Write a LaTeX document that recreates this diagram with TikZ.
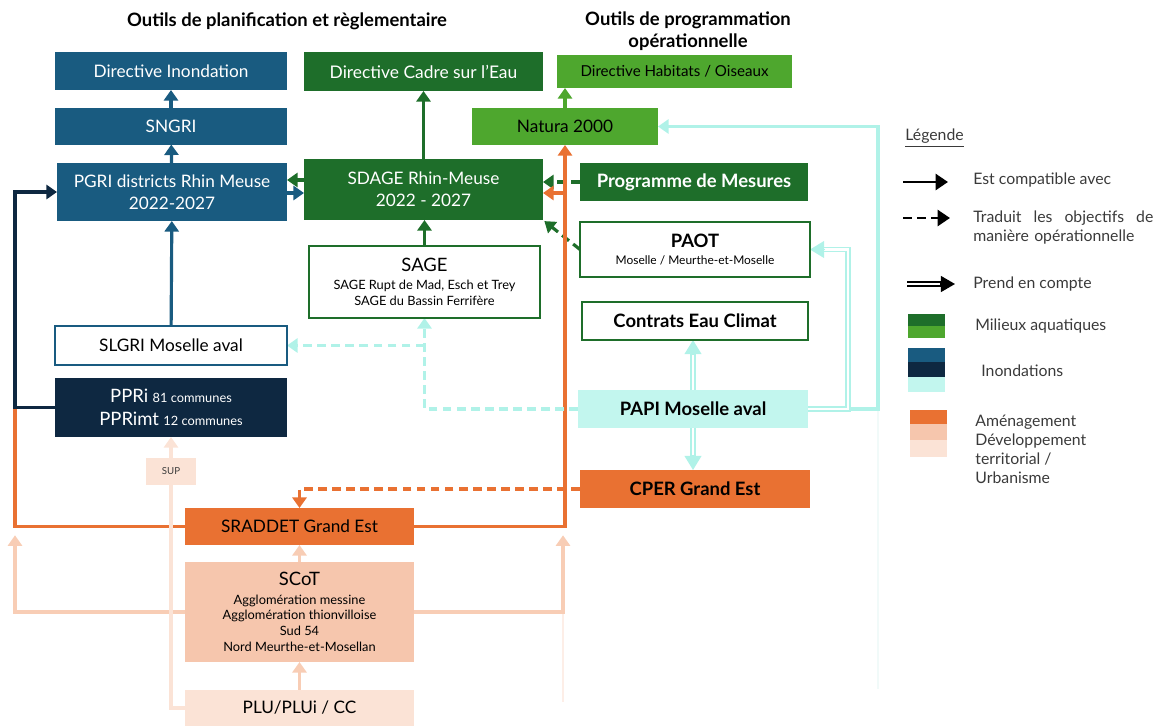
\documentclass[tikz,border=0pt]{standalone}
\usepackage{fontspec}
\setmainfont{Lato}
\usepackage{tikz}
\usetikzlibrary{arrows.meta,positioning}
\definecolor{inondblue}{HTML}{195B80}
\definecolor{navy}{HTML}{0E2841}
\definecolor{darkgreen}{HTML}{1E6E2A}
\definecolor{lightgreen}{HTML}{4EA72E}
\definecolor{amenorange}{HTML}{E97132}
\definecolor{peach}{HTML}{F6C6AD}
\definecolor{lightpeach}{HTML}{FBE3D6}
\definecolor{peachline}{HTML}{F8CDB5}
\definecolor{cyanfill}{HTML}{C2F6EE}
\definecolor{cyanline}{HTML}{B0F2E8}
\definecolor{faintline}{HTML}{F1FAF9}
\definecolor{legtext}{HTML}{3A3A3A}
\pgfdeclarelayer{edgelayer}
\pgfdeclarelayer{nodelayer}
\pgfsetlayers{edgelayer,nodelayer,main}
\tikzstyle{none}=[inner sep=0pt]
\tikzstyle{box}=[rectangle,inner sep=0pt,outer sep=0pt,align=center,font=\fontsize{9.8}{12.5}\selectfont]
\tikzstyle{bluebox}=[box,fill=inondblue,text=white]
\tikzstyle{navybox}=[box,fill=navy,text=white]
\tikzstyle{greenbox}=[box,fill=darkgreen,text=white]
\tikzstyle{lgreenbox}=[box,fill=lightgreen,text=black]
\tikzstyle{whitegreen}=[box,fill=white,draw=darkgreen,line width=1.1pt]
\tikzstyle{whiteblue}=[box,fill=white,draw=inondblue,line width=1.1pt]
\tikzstyle{cyanbox}=[box,fill=cyanfill,text=black]
\tikzstyle{orangebox}=[box,fill=amenorange,text=black]
\tikzstyle{peachbox}=[box,fill=peach,text=black]
\tikzstyle{lpeachbox}=[box,fill=lightpeach,text=black]
\tikzstyle{boldlabel}=[font=\bfseries\fontsize{10.5}{12.5}\selectfont]
\tikzstyle{smalllines}=[font=\fontsize{7.3}{9}\selectfont]
\tikzstyle{title}=[inner sep=0pt,align=center,font=\bfseries\fontsize{10.5}{12.5}\selectfont]
\tikzstyle{legend}=[inner sep=0pt,anchor=west,align=left,text=legtext,font=\fontsize{9}{10.8}\selectfont]
\tikzstyle{inarrow}=[-{Triangle[length=6pt,width=8pt]},line width=1.8pt]
\tikzstyle{bluearrow}=[inarrow,draw=inondblue]
\tikzstyle{navyarrow}=[inarrow,draw=navy]
\tikzstyle{greenarrow}=[inarrow,draw=darkgreen]
\tikzstyle{lgreenarrow}=[inarrow,draw=lightgreen]
\tikzstyle{orangearrow}=[inarrow,draw=amenorange]
\tikzstyle{peacharrow}=[inarrow,draw=peachline]
\tikzstyle{suparrow}=[inarrow,draw=lightpeach]
\tikzstyle{cyanarrow}=[inarrow,draw=cyanline]
\tikzstyle{dashed arrow}=[dash pattern=on 5pt off 3pt]
\tikzstyle{takes}=[double=white,double distance=1.3pt,line width=1pt,shorten >=6pt]
\tikzstyle{cyanhead}=[-{Triangle[length=8pt,width=9.5pt]},draw=cyanline,line width=1pt]
\tikzstyle{blackhead}=[-{Triangle[length=8pt,width=9pt]},draw=black,line width=1pt]
\tikzstyle{legarrow}=[-{Triangle[length=7pt,width=9pt]},line width=1.6pt,draw=black]

\begin{document}
\begin{tikzpicture}
	\useasboundingbox (0,0) rectangle (23.1,-14.52);
	\begin{pgfonlayer}{nodelayer}
		\node [style=title] (plantitle) at (5.74, -0.42) {Outils de planification et règlementaire};
		\node [style=title] (progtitle) at (13.76, -0.62) {Outils de programmation\\opérationnelle};
		% inondations
		\node [style=bluebox, minimum width=4.64cm, minimum height=0.76cm] (dirinond) at (3.42, -1.42) {Directive Inondation};
		\node [style=bluebox, minimum width=4.64cm, minimum height=0.74cm] (sngri) at (3.42, -2.52) {SNGRI};
		\node [style=bluebox, minimum width=4.6cm, minimum height=1.16cm] (pgri) at (3.44, -3.84) {PGRI districts Rhin Meuse\\2022-2027};
		\node [style=whiteblue, minimum width=4.64cm, minimum height=0.78cm] (slgri) at (3.42, -6.91) {SLGRI Moselle aval};
		\node [style=navybox, minimum width=4.64cm, minimum height=1.18cm] (ppri) at (3.42, -8.15) {{\fontsize{10.5}{13}\selectfont PPRi} {\fontsize{7.3}{9}\selectfont 81 communes}\\[0.5pt]{\fontsize{10.5}{13}\selectfont PPRimt} {\fontsize{7.3}{9}\selectfont 12 communes}};
		% milieux aquatiques
		\node [style=greenbox, minimum width=4.78cm, minimum height=0.78cm, font=\fontsize{9.9}{12}\selectfont] (dce) at (8.47, -1.43) {Directive Cadre sur l’Eau};
		\node [style=greenbox, minimum width=4.78cm, minimum height=1.22cm] (sdage) at (8.47, -3.79) {SDAGE Rhin-Meuse\\2022 - 2027};
		\node [style=whitegreen, smalllines, minimum width=4.62cm, minimum height=1.44cm] (sage) at (8.49, -5.64) {{\fontsize{10.5}{12}\selectfont SAGE}\\[1.5pt]SAGE Rupt de Mad, Esch et Trey\\SAGE du Bassin Ferrifère};
		\node [style=lgreenbox, minimum width=4.7cm, minimum height=0.66cm, font=\fontsize{8.6}{10}\selectfont] (dho) at (13.49, -1.43) {Directive Habitats / Oiseaux};
		\node [style=lgreenbox, minimum width=3.72cm, minimum height=0.74cm] (natura) at (11.30, -2.53) {Natura 2000};
		\node [style=greenbox, boldlabel, minimum width=4.56cm, minimum height=0.76cm] (pdm) at (13.88, -3.64) {Programme de Mesures};
		\node [style=whitegreen, font=\fontsize{6.8}{8}\selectfont, minimum width=4.6cm, minimum height=1.1cm] (paot) at (13.90, -4.99) {{\bfseries\fontsize{10.5}{12}\selectfont PAOT}\\[2pt]Moselle / Meurthe-et-Moselle};
		\node [style=whitegreen, boldlabel, minimum width=4.52cm, minimum height=0.76cm] (cec) at (13.90, -6.42) {Contrats Eau Climat};
		\node [style=cyanbox, boldlabel, minimum width=4.6cm, minimum height=0.76cm] (papi) at (13.86, -8.18) {PAPI Moselle aval};
		% amenagement
		\node [style=orangebox, boldlabel, minimum width=4.6cm, minimum height=0.76cm] (cper) at (13.90, -9.78) {CPER Grand Est};
		\node [style=lpeachbox, minimum width=1.0cm, minimum height=0.54cm, text=legtext, font=\fontsize{5.5}{7}\selectfont] (sup) at (3.42, -9.43) {SUP};
		\node [style=orangebox, minimum width=4.58cm, minimum height=0.74cm] (sraddet) at (5.99, -10.53) {SRADDET Grand Est};
		\node [style=peachbox, smalllines, minimum width=4.58cm, minimum height=2.0cm] (scot) at (5.99, -12.24) {{\fontsize{10.5}{12}\selectfont SCoT}\\[1.5pt]Agglomération messine\\Agglomération thionvilloise\\Sud 54\\Nord Meurthe-et-Mosellan};
		\node [style=lpeachbox, minimum width=4.58cm, minimum height=0.72cm, font=\fontsize{9.8}{12}\selectfont] (plu) at (5.99, -14.16) {PLU/PLUi / CC};
		% legende
		\node [style=legend] (legtitle) at (18.1, -2.76) {\underline{Légende}};
		\node [style=legend] (legcompat) at (19.46, -3.6) {Est compatible avec};
		\node [style=legend, text width=3.6cm] (legtrad) at (19.46, -4.56) {Traduit\hfill les\hfill objectifs\hfill de\\manière opérationnelle};
		\node [style=legend] (legprend) at (19.46, -5.68) {Prend en compte};
		\node [style=legend] (legmilieux) at (19.5, -6.52) {Milieux aquatiques};
		\node [style=legend] (leginond) at (19.62, -7.42) {Inondations};
		\node [style=legend] (legamen) at (19.5, -8.98) {Aménagement\\Développement\\territorial /\\Urbanisme};
		\fill [darkgreen] (18.16, -6.28) rectangle (18.9, -6.52);
		\fill [lightgreen] (18.16, -6.52) rectangle (18.9, -6.76);
		\fill [inondblue] (18.16, -6.96) rectangle (18.9, -7.24);
		\fill [navy] (18.16, -7.24) rectangle (18.9, -7.54);
		\fill [cyanfill] (18.16, -7.54) rectangle (18.9, -7.84);
		\fill [amenorange] (18.2, -8.2) rectangle (18.94, -8.48);
		\fill [peach] (18.2, -8.48) rectangle (18.94, -8.8);
		\fill [lightpeach] (18.2, -8.8) rectangle (18.94, -9.14);
	\end{pgfonlayer}
	\coordinate (gy) at (0, -3.60);
	\coordinate (by) at (0, -3.86);
	\coordinate (solida) at (18.06, -3.64);
	\coordinate (solidb) at (18.96, -3.64);
	\coordinate (dasha) at (18.06, -4.36);
	\coordinate (dashb) at (19.0, -4.36);
	\coordinate (dbla) at (18.14, -5.68);
	\coordinate (dblb) at (19.1, -5.68);
	\begin{pgfonlayer}{edgelayer}
		% faint leftovers
		\draw [faintline, line width=1pt] (papi.east) ++(1.4, 0) -- ++(0, -5.6);
		\draw [lightpeach!60, line width=1pt] (scot.east) ++(2.98, 0) -- ++(0, -1.8);
		% inondations
		\draw [style=bluearrow] (sngri) to (dirinond);
		\draw [style=bluearrow] (pgri) to (sngri);
		\draw [style=bluearrow] (slgri) to (pgri);
		\draw [style=bluearrow] (pgri.east |- by) to (sdage.west |- by);
		\draw [style=orangearrow, -] (sraddet.west) -- ++(-3.4, 0) -- ++(0, 2.38);
		\draw [style=navyarrow] (ppri.west) -- ++(-0.8, 0) |- (pgri.west);
		% milieux aquatiques
		\draw [style=greenarrow] (sdage) to (dce);
		\draw [style=greenarrow] (sage.north) to (sage.north |- sdage.south);
		\draw [style=greenarrow] (sdage.west |- gy) to (pgri.east |- gy);
		\draw [style=lgreenarrow] (natura.north) to (natura.north |- dho.south);
		\draw [style=greenarrow, style=dashed arrow] (pdm.west) to (pdm.west -| sdage.east);
		\draw [style=greenarrow, style=dashed arrow, shorten >=1pt] (paot.west) to (sdage.south east);
		% amenagement
		\draw [style=orangearrow] (sraddet.east) -| (natura.south);
		\draw [style=orangearrow] (natura.south |- by) to (sdage.east |- by);
		\draw [style=orangearrow, style=dashed arrow] (cper.west) -| (sraddet.north);
		\draw [style=peacharrow] (scot) to (sraddet);
		\draw [style=peacharrow] (plu) to (scot);
		\draw [style=peacharrow, shorten >=5pt] (scot.west) -- ++(-3.4, 0) -- ++(0, 1.71);
		\draw [style=peacharrow, shorten >=5pt] (scot.east) -- ++(2.98, 0) -- ++(0, 1.71);
		\draw [style=suparrow] (plu.west) -| (ppri.south);
		% PAPI
		\draw [style=cyanarrow] (papi.east) -- ++(1.4, 0) |- (natura.east);
		\draw [style=cyanarrow, style=dashed arrow] (papi.west) -| (sage.south);
		\draw [style=cyanarrow, style=dashed arrow] (sage.south |- slgri.east) to (slgri.east);
		\draw [style=takes, draw=cyanline] (papi.east) -- ++(0.8, 0) |- (paot.east);
		\draw [style=cyanhead] (paot.east) ++(0.3, 0) -- (paot.east);
		\draw [style=takes, draw=cyanline] (papi.north) to (papi.north |- cec.south);
		\draw [style=cyanhead] (papi.north |- cec.south) ++(0, -0.3) -- (papi.north |- cec.south);
		\draw [style=takes, draw=cyanline] (papi.south) to (papi.south |- cper.north);
		\draw [style=cyanhead] (papi.south |- cper.north) ++(0, 0.3) -- (papi.south |- cper.north);
		% legende
		\draw [style=legarrow] (solida) to (solidb);
		\draw [style=legarrow, style=dashed arrow] (dasha) to (dashb);
		\draw [style=takes, draw=black] (dbla) to (dblb);
		\draw [style=blackhead] (dblb) ++(-0.3, 0) -- (dblb);
	\end{pgfonlayer}
\end{tikzpicture}
\end{document}
